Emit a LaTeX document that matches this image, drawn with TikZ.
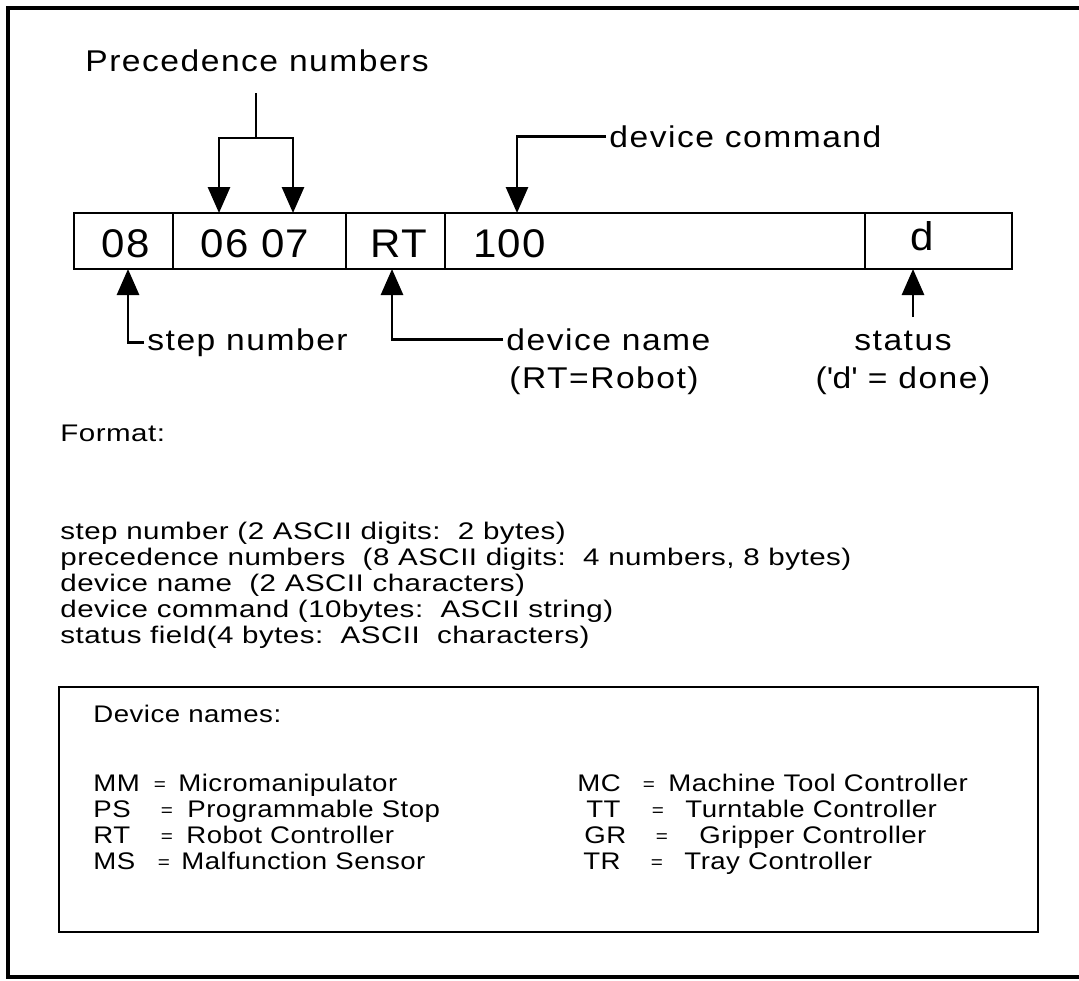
\documentclass[tikz,border=0pt]{standalone}
\usepackage{fontspec}
\setmainfont{Liberation Sans}
\newfontfamily\labelfont[FakeStretch=1.12,LetterSpace=5]{Liberation Sans}
\newfontfamily\fieldfont[FakeStretch=1.05,LetterSpace=3]{Liberation Sans}
\newfontfamily\fmtfont[FakeStretch=1.23,LetterSpace=2]{Liberation Sans}
\newfontfamily\boxfont[FakeStretch=1.15,LetterSpace=2]{Liberation Sans}
\usetikzlibrary{arrows.meta, math}

\begin{document}
\begin{tikzpicture}[x=0.5pt, y=-0.5pt,
  field/.style={draw, line width=1.4pt, minimum height=28pt, inner sep=0pt},
  ptr/.style={line width=1.4pt, -{Triangle[length=13pt,width=11pt]}},
  wire/.style={line width=1.4pt},
  lbl/.style={font=\labelfont\fontsize{15}{18}\selectfont, inner sep=0pt, anchor=base west},
  val/.style={font=\fieldfont\fontsize{20}{24}\selectfont, inner sep=0pt, anchor=base},
  fmt/.style={font=\fmtfont\fontsize{12}{14}\selectfont, inner sep=0pt, anchor=base west},
  dev/.style={font=\boxfont\fontsize{12}{14}\selectfont, inner sep=0pt, anchor=base west},
  eq/.style={font=\boxfont\fontsize{9}{10}\selectfont, inner sep=0pt, anchor=base}]
\tikzmath{
\rtop=213;
\rbot=269;
\rmid=241;
}
\useasboundingbox (0,0) rectangle (1079,980);
\draw[line width=1.6pt] (1079,8) -- (8,8) -- (8,977) -- (1079,977);

% record fields
\node[field, minimum width=49.5pt] (f1) at (123.5,\rmid) {};
\node[field, minimum width=86.5pt] (f2) at (259.5,\rmid) {};
\node[field, minimum width=49.5pt] (f3) at (395.5,\rmid) {};
\node[field, minimum width=210pt] (f4) at (655,\rmid) {};
\node[field, minimum width=73.5pt] (f5) at (938.5,\rmid) {};
\node[val] (v1) at (125.5,257) {08};
\node[val] (v2) at (255,257) {06 07};
\node[val] (v3) at (399,257) {RT};
\node[val, anchor=base west] (v4) at (473,257) {100};
\node[val] (v5) at (922,250) {d};

% labels
\node[lbl] (prec) at (85,71) {Precedence numbers};
\node[lbl, inner xsep=1.5pt] (devcmd) at (606,147) {device command};
\node[lbl, inner xsep=1.5pt] (stepnum) at (144,350) {step number};
\node[lbl, inner xsep=1.5pt] (devname) at (503,350) {device name};
\node[lbl, anchor=base] (robot) at (604,388) {(RT=Robot)};
\node[lbl, anchor=base] (status) at (903,350) {status};
\node[lbl, anchor=base] (done) at (903,388) {(\textquotesingle d\textquotesingle\ = done)};

\coordinate (ptop) at (256,93);
\coordinate (pjoin) at (256,138);
\coordinate (tipA) at (219,\rtop);
\coordinate (tipB) at (293,\rtop);
\coordinate (tipCmd) at (517,\rtop);
\coordinate (tipStep) at (128,\rbot);
\coordinate (tipDev) at (392,\rbot);
\coordinate (tipStat) at (913,\rbot);
\coordinate (statTail) at (913,317);

\draw[wire] (ptop) -- (pjoin);
\draw[ptr] (pjoin) -| (tipA);
\draw[ptr] (pjoin) -| (tipB);
\draw[ptr] (devcmd.west) -| (tipCmd);
\draw[ptr] (stepnum.west) -| (tipStep);
\draw[ptr] (devname.west) -| (tipDev);
\draw[ptr] (statTail) -- (tipStat);

% format notes
\node[fmt] (fmthead) at (60,441) {Format:};
\node[fmt] (fl1) at (60,539) {step number (2 ASCII digits:\ \ 2 bytes)};
\node[fmt] (fl2) at (60,565) {precedence numbers\ \ (8 ASCII digits:\ \ 4 numbers, 8 bytes)};
\node[fmt] (fl3) at (60,591) {device name\ \ (2 ASCII characters)};
\node[fmt] (fl4) at (60,617) {device command (10bytes:\ \ ASCII string)};
\node[fmt] (fl5) at (60,643) {status field(4 bytes:\ \ ASCII\ \ characters)};

% device names
\node[draw, line width=1.4pt, minimum width=489.5pt, minimum height=122.5pt, inner sep=0pt] (namebox) at (548.5,809.5) {};
\node[dev] (devhead) at (93,722) {Device names:};
\foreach \i/\y/\c/\e/\x/\d in {1/791/MM/160/178/Micromanipulator, 2/817/PS/167/187/Programmable Stop,
    3/843/RT/167/186/Robot Controller, 4/869/MS/164/181/Malfunction Sensor}{
  \node[dev] (lc\i) at (93,\y) {\c};
  \node[eq] (le\i) at (\e,\y-1) {=};
  \node[dev] (ld\i) at (\x,\y) {\d};
}
\foreach \i/\y/\cx/\c/\e/\x/\d in {1/791/577/MC/649/668/Machine Tool Controller, 2/817/586/TT/658/685/Turntable Controller,
    3/843/584/GR/662/699/Gripper Controller, 4/869/583/TR/657/684/Tray Controller}{
  \node[dev] (rc\i) at (\cx,\y) {\c};
  \node[eq] (re\i) at (\e,\y-1) {=};
  \node[dev] (rd\i) at (\x,\y) {\d};
}
\end{tikzpicture}
\end{document}
